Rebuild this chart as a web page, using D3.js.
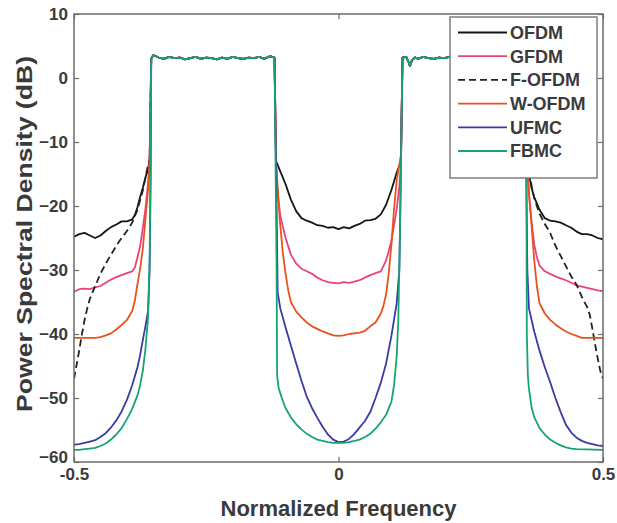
<!DOCTYPE html>
<html>
<head>
<meta charset="utf-8">
<script src="https://cdn.jsdelivr.net/npm/d3@7"></script>
<style>
  html, body { margin: 0; padding: 0; background: #fff; }
  svg { display: block; font-family: "Liberation Sans", Arial, sans-serif; }
</style>
</head>
<body>
<svg id="chart" width="617" height="523"></svg>
<script>
// Power spectral density of six multicarrier waveforms, two occupied subbands.
// Each array holds [normalized frequency, PSD in dB] pairs.

const seriesNames = ["OFDM", "GFDM", "F-OFDM", "W-OFDM", "UFMC", "FBMC"];
const seriesColors = ["#151515", "#e8437f", "#222222", "#e8521f", "#3a3aa8", "#16a572"];

const xTicks = [-0.5, 0, 0.5];
const xTickLabels = ["-0.5", "0", "0.5"];
const yTicks = [10, 0, -10, -20, -30, -40, -50, -60];

// occupied subbands (shared by all waveforms)
const passLeft = [[-0.354,3.0],[-0.35,3.6],[-0.34,3.2],[-0.33,3.0],[-0.32,3.3],[-0.31,3.1],[-0.30,3.2],[-0.29,2.9],[-0.28,3.1],[-0.27,3.3],[-0.26,3.0],[-0.25,3.2],[-0.24,3.1],[-0.23,2.9],[-0.22,3.2],[-0.21,3.0],[-0.20,3.3],[-0.19,3.1],[-0.18,3.0],[-0.17,3.2],[-0.16,3.1],[-0.15,3.3],[-0.14,3.0],[-0.13,3.4],[-0.121,3.2]];
const passRight = [[0.121,3.2],[0.128,3.3],[0.132,2.6],[0.135,1.9],[0.139,2.8],[0.145,3.2],[0.15,3.0],[0.16,3.3],[0.17,3.1],[0.18,3.0],[0.19,3.2],[0.20,3.1],[0.21,3.3],[0.22,3.0],[0.23,3.2],[0.24,2.9],[0.25,3.1],[0.26,3.3],[0.27,3.0],[0.28,3.2],[0.29,3.1],[0.30,2.9],[0.31,3.2],[0.32,3.0],[0.33,3.3],[0.34,3.1],[0.35,3.5],[0.354,3.0]];

// out-of-band leakage: left guard, centre gap, right guard
const ofdmLeft = [[-0.5,-24.8],[-0.49,-24.4],[-0.48,-24.2],[-0.47,-24.6],[-0.46,-25.0],[-0.45,-24.6],[-0.44,-23.9],[-0.43,-23.3],[-0.42,-22.9],[-0.41,-22.4],[-0.40,-22.4],[-0.39,-22.1],[-0.385,-21.4],[-0.38,-20.2],[-0.375,-18.6],[-0.37,-17.2],[-0.365,-15.6],[-0.36,-14.2],[-0.357,-12.8]];
const ofdmCenter = [[-0.118,-13.0],[-0.11,-14.6],[-0.10,-16.6],[-0.09,-19.0],[-0.08,-20.8],[-0.07,-21.9],[-0.06,-22.3],[-0.05,-22.6],[-0.04,-23.0],[-0.03,-23.1],[-0.02,-23.4],[-0.01,-23.3],[0.0,-23.6],[0.01,-23.3],[0.02,-23.5],[0.03,-23.1],[0.04,-22.8],[0.05,-22.3],[0.06,-22.2],[0.07,-22.0],[0.08,-21.3],[0.09,-19.8],[0.10,-17.5],[0.11,-14.8],[0.118,-13.0]];
const ofdmRight = [[0.357,-13.0],[0.36,-15.0],[0.365,-17.2],[0.37,-18.6],[0.38,-20.6],[0.39,-21.9],[0.40,-22.3],[0.41,-22.4],[0.42,-22.6],[0.43,-23.0],[0.44,-23.4],[0.45,-24.0],[0.46,-24.4],[0.47,-24.4],[0.48,-24.6],[0.49,-25.0],[0.5,-25.2]];

const gfdmLeft = [[-0.5,-33.4],[-0.49,-33.0],[-0.48,-32.9],[-0.47,-33.0],[-0.46,-32.7],[-0.45,-32.5],[-0.44,-32.0],[-0.43,-31.5],[-0.42,-31.1],[-0.41,-30.8],[-0.40,-30.5],[-0.39,-30.2],[-0.385,-29.6],[-0.38,-28.0],[-0.375,-26.3],[-0.37,-23.5],[-0.365,-20.5],[-0.36,-16.5],[-0.357,-13.0]];
const gfdmCenter = [[-0.118,-13.5],[-0.115,-18.0],[-0.11,-21.5],[-0.105,-23.3],[-0.10,-25.0],[-0.09,-27.6],[-0.08,-29.0],[-0.07,-29.8],[-0.06,-30.2],[-0.05,-30.6],[-0.04,-31.2],[-0.03,-31.6],[-0.02,-31.9],[-0.01,-32.0],[0.0,-32.1],[0.01,-31.9],[0.02,-32.0],[0.03,-31.8],[0.04,-31.6],[0.05,-31.2],[0.06,-30.8],[0.07,-30.5],[0.08,-30.2],[0.09,-28.5],[0.10,-25.5],[0.105,-23.0],[0.11,-20.5],[0.115,-17.0],[0.118,-13.5]];
const gfdmRight = [[0.357,-13.0],[0.36,-18.0],[0.365,-22.5],[0.37,-26.0],[0.375,-28.0],[0.38,-29.3],[0.39,-30.2],[0.40,-30.6],[0.41,-31.0],[0.42,-31.3],[0.43,-31.6],[0.44,-32.0],[0.45,-32.4],[0.46,-32.6],[0.47,-32.8],[0.48,-33.0],[0.49,-33.2],[0.5,-33.3]];

const fofdmLeft = [[-0.5,-47.0],[-0.495,-44.8],[-0.49,-42.5],[-0.485,-40.0],[-0.48,-37.8],[-0.475,-36.0],[-0.47,-34.5],[-0.46,-32.5],[-0.45,-30.6],[-0.44,-29.0],[-0.43,-27.6],[-0.42,-26.2],[-0.41,-25.0],[-0.40,-23.9],[-0.39,-22.6],[-0.38,-20.6],[-0.37,-17.6],[-0.365,-15.6],[-0.36,-13.6],[-0.357,-12.8]];
const fofdmRight = [[0.357,-13.0],[0.36,-14.5],[0.365,-16.8],[0.37,-18.8],[0.38,-21.2],[0.39,-22.8],[0.40,-24.2],[0.41,-26.2],[0.42,-27.8],[0.43,-29.4],[0.44,-31.0],[0.45,-32.3],[0.46,-34.2],[0.47,-35.8],[0.475,-37.0],[0.48,-39.2],[0.485,-41.6],[0.49,-43.8],[0.495,-45.8],[0.5,-47.0]];

const wofdmLeft = [[-0.5,-40.6],[-0.49,-40.6],[-0.48,-40.6],[-0.47,-40.6],[-0.46,-40.6],[-0.45,-40.5],[-0.44,-40.2],[-0.43,-39.9],[-0.42,-39.3],[-0.41,-38.6],[-0.40,-37.8],[-0.39,-36.4],[-0.385,-34.8],[-0.38,-32.2],[-0.375,-29.8],[-0.37,-26.8],[-0.365,-22.0],[-0.36,-17.5],[-0.357,-13.0]];
const wofdmCenter = [[-0.118,-13.0],[-0.115,-17.0],[-0.111,-22.2],[-0.105,-27.5],[-0.10,-30.6],[-0.095,-33.2],[-0.09,-35.0],[-0.08,-36.5],[-0.07,-37.4],[-0.06,-38.2],[-0.05,-38.8],[-0.04,-39.2],[-0.03,-39.6],[-0.02,-39.9],[-0.01,-40.2],[0.0,-40.3],[0.01,-40.2],[0.02,-40.0],[0.03,-39.9],[0.04,-39.8],[0.05,-39.5],[0.06,-38.8],[0.07,-38.2],[0.08,-36.8],[0.085,-35.6],[0.09,-33.8],[0.095,-30.5],[0.10,-26.0],[0.105,-20.5],[0.11,-16.0],[0.118,-12.0]];
const wofdmRight = [[0.357,-13.0],[0.36,-18.0],[0.365,-23.0],[0.37,-28.5],[0.375,-32.5],[0.38,-35.2],[0.39,-36.8],[0.40,-37.8],[0.41,-38.5],[0.42,-39.1],[0.43,-39.6],[0.44,-40.0],[0.45,-40.3],[0.46,-40.6],[0.47,-40.6],[0.48,-40.6],[0.49,-40.6],[0.5,-40.6]];

const ufmcLeft = [[-0.5,-57.3],[-0.49,-57.2],[-0.48,-57.0],[-0.47,-56.8],[-0.46,-56.6],[-0.45,-56.1],[-0.44,-55.5],[-0.43,-54.6],[-0.42,-53.5],[-0.41,-52.1],[-0.40,-50.3],[-0.39,-48.0],[-0.38,-45.2],[-0.375,-43.3],[-0.37,-41.0],[-0.365,-38.8],[-0.36,-36.4],[-0.357,-30.0],[-0.355,-15.0]];
const ufmcCenter = [[-0.117,-20.0],[-0.115,-33.5],[-0.11,-36.0],[-0.10,-39.0],[-0.09,-41.8],[-0.08,-44.6],[-0.07,-47.3],[-0.06,-49.8],[-0.05,-51.6],[-0.04,-53.1],[-0.03,-54.5],[-0.02,-55.7],[-0.01,-56.5],[0.0,-56.9],[0.01,-56.8],[0.02,-56.4],[0.03,-55.6],[0.04,-54.6],[0.05,-53.6],[0.06,-52.2],[0.07,-50.0],[0.08,-47.6],[0.09,-44.6],[0.10,-40.3],[0.11,-35.2],[0.115,-30.0],[0.117,-20.0]];
const ufmcRight = [[0.355,-15.0],[0.357,-30.0],[0.36,-36.0],[0.37,-39.6],[0.38,-42.6],[0.39,-45.2],[0.40,-47.5],[0.41,-50.0],[0.42,-52.2],[0.43,-54.2],[0.44,-55.4],[0.45,-56.2],[0.46,-56.7],[0.47,-57.0],[0.48,-57.2],[0.49,-57.4],[0.5,-57.5]];

const fbmcLeft = [[-0.5,-58.1],[-0.49,-58.1],[-0.48,-58.0],[-0.47,-57.9],[-0.46,-57.8],[-0.45,-57.5],[-0.44,-57.1],[-0.43,-56.5],[-0.42,-55.7],[-0.41,-54.7],[-0.40,-53.3],[-0.39,-51.7],[-0.38,-49.6],[-0.375,-48.0],[-0.37,-45.8],[-0.365,-42.4],[-0.36,-37.5],[-0.357,-28.0],[-0.355,-10.0]];
const fbmcCenter = [[-0.117,-30.0],[-0.116,-46.5],[-0.113,-48.5],[-0.105,-50.5],[-0.10,-51.6],[-0.09,-53.0],[-0.08,-54.1],[-0.07,-54.9],[-0.06,-55.6],[-0.05,-56.1],[-0.04,-56.5],[-0.03,-56.7],[-0.02,-56.9],[-0.01,-57.0],[0.0,-57.0],[0.01,-57.0],[0.02,-56.9],[0.03,-56.7],[0.04,-56.5],[0.05,-56.1],[0.06,-55.6],[0.07,-54.8],[0.08,-53.8],[0.09,-52.6],[0.10,-50.6],[0.105,-48.0],[0.11,-43.5],[0.113,-38.0],[0.116,-25.0]];
const fbmcRight = [[0.355,-10.0],[0.356,-40.0],[0.358,-46.5],[0.36,-48.5],[0.365,-51.5],[0.37,-53.0],[0.38,-54.7],[0.39,-55.7],[0.40,-56.5],[0.41,-57.0],[0.42,-57.4],[0.43,-57.7],[0.44,-57.9],[0.45,-58.0],[0.5,-58.1]];

// each series is a list of continuous pieces; F-OFDM has no visible trace in the centre gap
const series = [
  { name: seriesNames[0], color: seriesColors[0], dash: null,  pieces: [[ofdmLeft, passLeft, ofdmCenter, passRight, ofdmRight]] },
  { name: seriesNames[1], color: seriesColors[1], dash: null,  pieces: [[gfdmLeft, passLeft, gfdmCenter, passRight, gfdmRight]] },
  { name: seriesNames[2], color: seriesColors[2], dash: "7,4", pieces: [[fofdmLeft, passLeft], [passRight, fofdmRight]] },
  { name: seriesNames[3], color: seriesColors[3], dash: null,  pieces: [[wofdmLeft, passLeft, wofdmCenter, passRight, wofdmRight]] },
  { name: seriesNames[4], color: seriesColors[4], dash: null,  pieces: [[ufmcLeft, passLeft, ufmcCenter, passRight, ufmcRight]] },
  { name: seriesNames[5], color: seriesColors[5], dash: null,  pieces: [[fbmcLeft, passLeft, fbmcCenter, passRight, fbmcRight]] }
];

const W = 617, H = 523;
const margin = { top: 14, right: 14, bottom: 61, left: 74 };
const iw = W - margin.left - margin.right;
const ih = H - margin.top - margin.bottom;

const svg = d3.select("#chart");
const g = svg.append("g").attr("transform", `translate(${margin.left},${margin.top})`);

const x = d3.scaleLinear().domain([-0.5, 0.5]).range([0, iw]);
const y = d3.scaleLinear().domain([-60, 10]).range([ih, 0]);

svg.append("defs").append("clipPath").attr("id", "plotClip")
  .append("rect").attr("x", 0).attr("y", 0).attr("width", iw).attr("height", ih);

const axisColor = "#6b6b6b";
const labelColor = "#3a3a3a";

// axes with inward ticks, mirrored on top and right
const fmtX = (d) => xTickLabels[xTicks.indexOf(d)];
const axB = g.append("g").attr("transform", `translate(0,${ih})`)
  .call(d3.axisBottom(x).tickValues(xTicks).tickFormat(fmtX).tickSizeInner(-5).tickSizeOuter(0).tickPadding(6));
const axT = g.append("g")
  .call(d3.axisTop(x).tickValues(xTicks).tickFormat("").tickSizeInner(-5).tickSizeOuter(0));
const axL = g.append("g")
  .call(d3.axisLeft(y).tickValues(yTicks).tickFormat(d3.format("d")).tickSizeInner(-5).tickSizeOuter(0).tickPadding(6));
const axR = g.append("g").attr("transform", `translate(${iw},0)`)
  .call(d3.axisRight(y).tickValues(yTicks).tickFormat("").tickSizeInner(-5).tickSizeOuter(0));

[axB, axT, axL, axR].forEach(a => {
  a.select(".domain").remove();
  a.selectAll(".tick line").attr("stroke", axisColor).attr("stroke-width", 1.2);
  a.selectAll(".tick text")
    .attr("fill", labelColor)
    .style("font-size", "17px")
    .style("font-weight", "bold")
    .style("font-family", "'Liberation Sans', Arial, sans-serif");
});
// the -60 label sits a little higher so it clears -0.5 below it
axL.selectAll(".tick text").filter(d => d === -60).attr("dy", "0.05em");

// curves
const line = d3.line().x(d => x(d[0])).y(d => y(d[1]));
const plot = g.append("g").attr("clip-path", "url(#plotClip)");
series.forEach(s => {
  s.pieces.forEach(piece => {
    plot.append("path")
      .datum(piece.flat())
      .attr("fill", "none")
      .attr("stroke", s.color)
      .attr("stroke-width", 1.8)
      .attr("stroke-linejoin", "round")
      .attr("stroke-dasharray", s.dash)
      .attr("d", line);
  });
});

// plot frame
g.append("rect")
  .attr("x", 0).attr("y", 0).attr("width", iw).attr("height", ih)
  .attr("fill", "none").attr("stroke", axisColor).attr("stroke-width", 1.5);

// axis titles
svg.append("text")
  .attr("x", margin.left + iw / 2).attr("y", 516)
  .attr("text-anchor", "middle")
  .attr("fill", labelColor)
  .style("font-size", "22px").style("font-weight", "bold")
  .text("Normalized Frequency");

svg.append("text")
  .attr("transform", `translate(32,${234}) rotate(-90)`)
  .attr("text-anchor", "middle")
  .attr("fill", labelColor)
  .attr("textLength", 356)
  .attr("lengthAdjust", "spacingAndGlyphs")
  .style("font-size", "22px").style("font-weight", "bold")
  .text("Power Spectral Density (dB)");

// legend
const lg = svg.append("g").attr("transform", "translate(450,17)");
lg.append("rect").attr("width", 147).attr("height", 161)
  .attr("fill", "#fff").attr("stroke", axisColor).attr("stroke-width", 1.3);
series.forEach((s, i) => {
  const yy = 15.5 + i * 23.7;
  lg.append("line")
    .attr("x1", 8).attr("x2", 57).attr("y1", yy).attr("y2", yy)
    .attr("stroke", s.color).attr("stroke-width", 1.8)
    .attr("stroke-dasharray", s.dash);
  lg.append("text")
    .attr("x", 60).attr("y", yy).attr("dy", "0.36em")
    .attr("fill", labelColor)
    .style("font-size", "18px").style("font-weight", "bold")
    .text(s.name);
});
</script>
</body>
</html>
